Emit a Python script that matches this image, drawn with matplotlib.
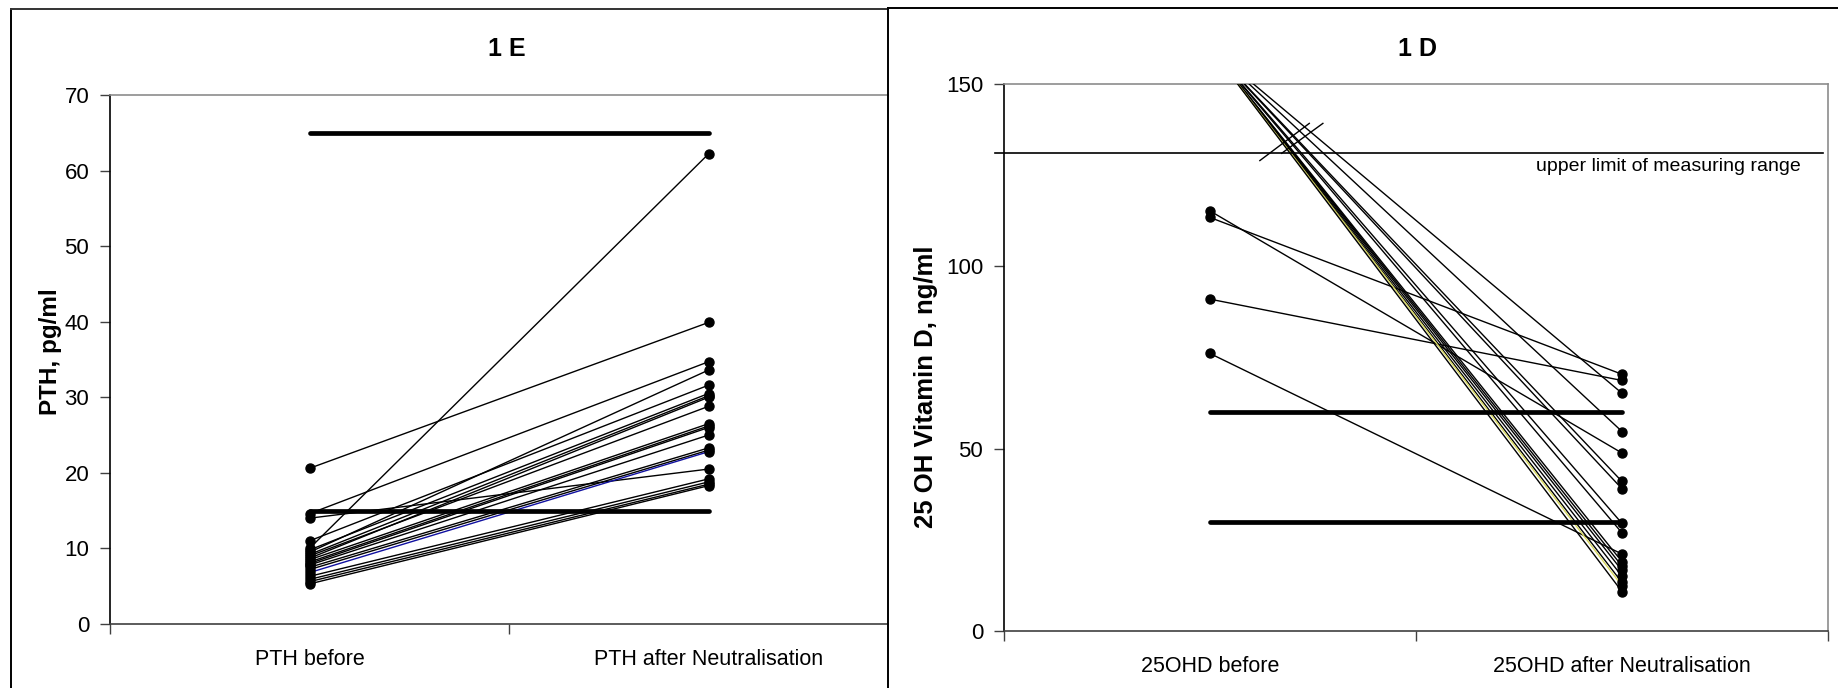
import matplotlib
matplotlib.use("Agg")
import matplotlib.pyplot as plt
from matplotlib.lines import Line2D

plt.rcParams['font.family'] = ['Liberation Sans', 'DejaVu Sans']

# ---------------- data ----------------
pth_categories = ["PTH before", "PTH after Neutralisation"]
pth_before = [20.6, 14.6, 14.0, 11.0, 10.0, 9.8, 9.5, 9.2, 9.0, 8.7, 8.5,
              8.2, 8.0, 7.8, 7.5, 7.2, 6.8, 6.3, 5.9, 5.6, 5.3]
pth_after = [39.9, 34.7, 20.5, 31.6, 62.2, 30.5, 33.6, 30.2, 28.8, 30.0, 26.5,
             26.2, 26.0, 25.0, 23.3, 23.0, 22.8, 19.2, 18.8, 18.5, 18.3]
pth_ref = [15, 65]
pth_yticks = [0, 10, 20, 30, 40, 50, 60, 70]

vd_categories = ["25OHD before", "25OHD after Neutralisation"]
vd_before = [115.2, 113.4, 91.0, 76.1, 160, 160, 160, 160, 160, 160, 160,
             160, 160, 160, 160, 160, 160]
vd_after = [48.8, 70.4, 68.7, 21.1, 65.2, 54.7, 41.0, 39.0, 29.5, 26.9, 19.0,
            17.8, 16.6, 15.0, 13.3, 12.4, 10.8]
vd_ref = [30, 60]
vd_upper_limit = 131
vd_yticks = [0, 50, 100, 150]

W, H = 1838, 688
fig = plt.figure(figsize=(W / 100, H / 100), dpi=100)
fig.patch.set_facecolor("white")

def fx(px):
    return px / W

def fy(py):
    return 1 - py / H

# panel frames
fig.add_artist(Line2D([fx(11), fx(11)], [fy(9), fy(700)], color="black", lw=1.4))
fig.add_artist(Line2D([fx(11), fx(888)], [fy(9), fy(9)], color="#333333", lw=1.4))
fig.add_artist(Line2D([fx(888), fx(888)], [fy(8), fy(700)], color="black", lw=1.4))
fig.add_artist(Line2D([fx(888), fx(1850)], [fy(8), fy(8)], color="black", lw=1.4))

tick_fs = 16
cat_fs = 15.5
line_c = "black"
thin = 1.0
ms = 6.5

def style_axes(ax, cats, xmax):
    ax.set_xlim(0, xmax)
    ax.set_xticks([0.5, 1.5])
    ax.set_xticklabels(cats, fontsize=cat_fs)
    ax.set_xticks([0, 1, 2][: (3 if xmax >= 2 else 2)], minor=True)
    ax.tick_params(axis="x", which="major", length=0, pad=18)
    ax.tick_params(axis="x", which="minor", length=7, width=1, color="#404040",
                   direction="out")
    ax.tick_params(axis="y", which="major", length=7, width=1, color="#404040",
                   direction="out", labelsize=tick_fs, pad=8)
    ax.spines["left"].set_color("black")
    ax.spines["left"].set_linewidth(1.2)
    ax.spines["bottom"].set_color("#404040")
    ax.spines["bottom"].set_linewidth(1.2)
    ax.spines["top"].set_color("#8c8c8c")
    ax.spines["top"].set_linewidth(1.2)
    ax.spines["right"].set_color("#8c8c8c")
    ax.spines["right"].set_linewidth(1.2)

# ---------------- left panel: 1 E ----------------
ax1 = fig.add_axes([fx(110), fy(624), fx(888) - fx(110), fy(95) - fy(624)])
style_axes(ax1, pth_categories, 778 / 399)
ax1.spines["right"].set_visible(False)
ax1.set_ylim(0, 70)
ax1.set_yticks(pth_yticks)
for i, (b, a) in enumerate(zip(pth_before, pth_after)):
    c = "#1010a0" if i == 16 else line_c
    ax1.plot([0.5, 1.5], [b, a], color=c, lw=thin, zorder=3)
    ax1.plot([0.5, 1.5], [b, a], ls="none", marker="o", ms=ms, color="black",
             zorder=4)
for r in pth_ref:
    ax1.plot([0.5, 1.5], [r, r], color="black", lw=3.4, solid_capstyle="round",
             zorder=5)
fig.text(fx(50), fy(352), "PTH, pg/ml", fontsize=17.5, fontweight="bold",
         rotation=90, ha="center", va="center")
fig.text(fx(507), fy(49), "1 E", fontsize=18, fontweight="bold",
         ha="center", va="center")

# ---------------- right panel: 1 D ----------------
ax2 = fig.add_axes([fx(1004), fy(631), fx(1828) - fx(1004), fy(84) - fy(631)])
style_axes(ax2, vd_categories, 2)
ax2.set_ylim(0, 150)
ax2.set_yticks(vd_yticks)
for i, (b, a) in enumerate(zip(vd_before, vd_after)):
    c = "#d8d860" if i == 15 else line_c
    ax2.plot([0.5, 1.5], [b, a], color=c, lw=thin, zorder=3)
    ax2.plot([0.5, 1.5], [b, a], ls="none", marker="o", ms=ms, color="black",
             zorder=4)
for r in vd_ref:
    ax2.plot([0.5, 1.5], [r, r], color="black", lw=3.4, solid_capstyle="round",
             zorder=5)
ax2.plot([-0.022, 1.988], [vd_upper_limit, vd_upper_limit], color="black",
         lw=1.2, clip_on=False, zorder=3)
ax2.text(1.935, vd_upper_limit - 3.5, "upper limit of measuring range",
         fontsize=14, ha="right", va="center")
# axis-break marks
ax2.plot([0.621, 0.741], [129.0, 139.2], color="black", lw=1.0, zorder=6)
ax2.plot([0.674, 0.774], [131.0, 139.2], color="black", lw=1.0, zorder=6)
fig.text(fx(926), fy(387), "25 OH Vitamin D, ng/ml", fontsize=18.5,
         fontweight="bold", rotation=90, ha="center", va="center")
fig.text(fx(1418), fy(49), "1 D", fontsize=18, fontweight="bold",
         ha="center", va="center")

fig.savefig("out.png", dpi=100, facecolor="white")
